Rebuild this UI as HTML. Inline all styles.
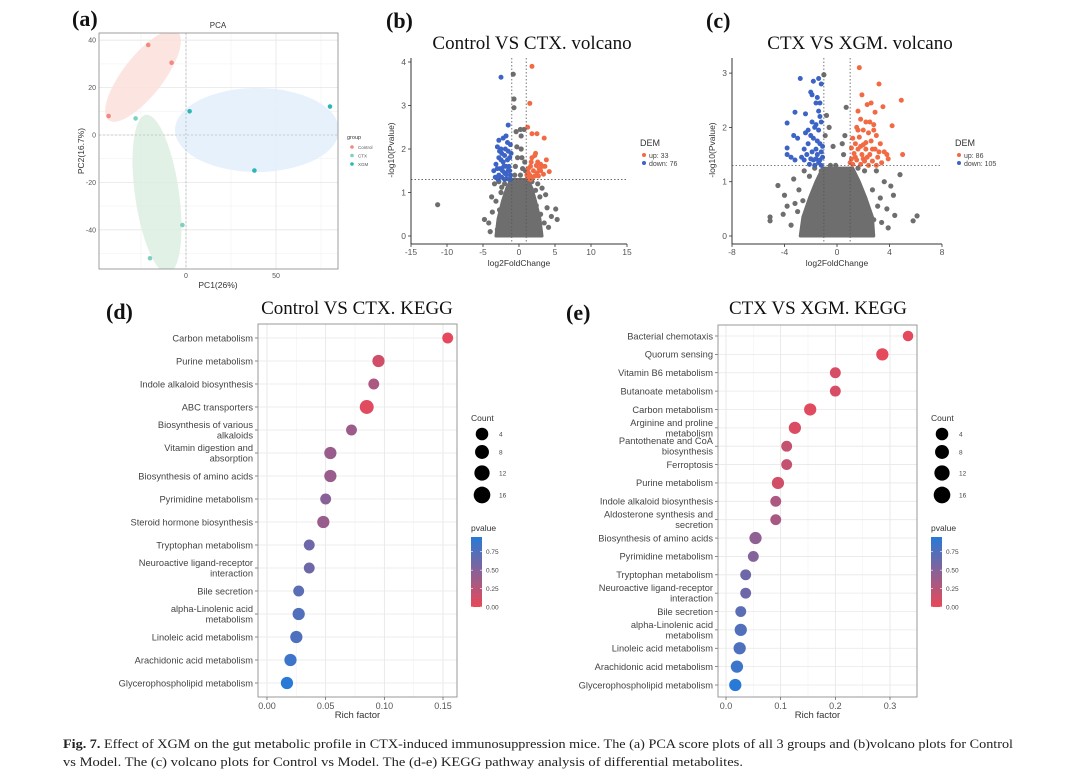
<!DOCTYPE html>
<html><head><meta charset="utf-8"><style>
html,body{margin:0;padding:0;background:#fff;}
svg{display:block;font-family:"Liberation Sans",sans-serif;}
.serif{font-family:"Liberation Serif",serif;}
</style></head><body>
<svg id="fig" width="1080" height="783" viewBox="0 0 1080 783" xmlns="http://www.w3.org/2000/svg">
<rect width="1080" height="783" fill="#fff"/>
<g class="serif" font-weight="bold" font-size="22" fill="#111">
<text x="72" y="26">(a)</text>
<text x="386" y="28">(b)</text>
<text x="706" y="28">(c)</text>
<text x="106" y="319">(d)</text>
<text x="566" y="320">(e)</text>
</g>
<g class="serif" font-size="19" fill="#111" text-anchor="middle">
<text x="532" y="49">Control VS CTX. volcano</text>
<text x="860" y="49">CTX VS XGM. volcano</text>
<text x="357" y="314">Control VS CTX. KEGG</text>
<text x="818" y="314">CTX VS XGM. KEGG</text>
</g>
<g id="pa"></g><g id="pb"></g><g id="pc"></g><g id="pd"></g><g id="pe"></g>
<g class="serif" font-size="12.5" fill="#222">
<text x="63" y="748" textLength="950" lengthAdjust="spacingAndGlyphs"><tspan font-weight="bold">Fig. 7.</tspan>  Effect of XGM on the gut metabolic profile in CTX-induced immunosuppression mice. The (a) PCA score plots of all 3 groups and (b)volcano plots for Control</text>
<text x="63" y="766" textLength="680" lengthAdjust="spacingAndGlyphs">vs Model. The (c) volcano plots for Control vs Model. The (d-e) KEGG pathway analysis of differential metabolites.</text>
</g>
</svg>
<script>
// ===== PCA data =====
const pcaGroups = ["Control","CTX","XGM"];
const pcaX = [-21,-8,-43, -28,-20,-2, 2,80,38];
const pcaY = [38,30.5,8, 7,-52,-38, 10,12,-15];
const pcaG = [0,0,0, 1,1,1, 2,2,2];
const pcaTicksX = [0,50];
const pcaTicksY = [40,20,0,-20,-40];

// ===== Volcano b data =====
const vbUp = "1.8,3.9;1.5,3.05;1.2,2.5;1.8,2.35;2.5,2.35;3.5,2.25;2.2,1.85;2.3,1.9;1.8,1.8;3.8,1.75;3,1.65;3.3,1.6;3.6,1.6;4.2,1.48;2.8,1.55;1.6,1.6;1.3,1.45;1.5,1.4;2,1.5;2.5,1.45;1.2,1.35;1.4,1.32;2.2,1.38;3,1.5;1.7,1.7;2.6,1.7;1.1,1.4;1.9,1.35;2.7,1.38;1.3,1.55;3.4,1.42;2.4,1.62;1.6,1.3";
const vbDown = "-2.5,3.65;-1.5,2.55;-1.8,2.3;-2.8,2.2;-2.2,2.25;-1.2,2.1;-2.5,2;-3,2.05;-1.5,1.95;-2,1.85;-2.8,1.8;-1.3,1.8;-2.2,1.7;-3.2,1.65;-1.8,1.6;-2.6,1.55;-1.5,1.5;-3.5,1.5;-2,1.45;-2.8,1.4;-1.2,1.4;-2.4,1.35;-1.7,1.32;-2.9,1.3;-1.4,1.6;-2.3,1.5;-1.1,1.9;-1.9,2.0;-2.7,1.95;-1.6,1.75;-2.1,1.6;-3.0,1.55;-1.3,1.5;-2.5,1.75;-1.8,1.42;-1.2,1.3;-2.0,1.3;-3.3,1.35;-1.6,2.15;-2.4,1.9";
const vbGray = "-11.3,0.72;-0.8,3.72;-0.7,3.15;-0.7,2.95;0.2,2.45;0.7,2.45;-0.4,2.4;0.3,2.3;-0.3,2.05;0.3,2.0;-0.2,1.8;0.4,1.8;0.8,1.7;-0.5,1.6;0.5,1.55;0.9,1.5;-0.6,1.4;0.2,1.4;-3.4,1.2;-2.8,1.25;-2,1.2;-1.2,1.25;-0.5,1.2;0.3,1.25;1,1.2;1.8,1.25;2.6,1.2;2.3,1.05;3.7,0.95;5.1,0.62;4.5,0.45;5.3,0.38;-4.8,0.38;-4.2,0.3;-3.7,0.55;-3.2,0.8;-2.5,1.0;-2.7,0.6;-2,0.85;-1.5,1.1;-1,1.0;-0.3,0.95;0.4,1.05;1.2,0.95;1.7,0.85;2.4,0.7;3,0.5;3.5,0.3;2.8,0.2;-2.2,0.3;-3,0.15;-1.8,0.55;-1.2,0.7;4.1,0.2;-4.0,0.1;3.9,0.65;-3.8,0.9;2.9,0.9;-2.4,1.12;3.2,1.1";
const vbCoreY = [0,0.4,0.8,1.1,1.3];
const vbCoreL = [-3.2,-2.9,-2.3,-1.7,-1.1];
const vbCoreR = [3.2,2.9,2.3,1.8,1.2];
const vbTicksX = [-15,-10,-5,0,5,10,15];
const vbTicksY = [0,1,2,3,4];
const vbCounts = [33,76];

// ===== Volcano c data =====
const vcUp = "1.7,3.1;3.2,2.8;1.9,2.6;4.9,2.5;2.6,2.45;2.3,2.42;3.5,2.38;1.6,2.3;2.9,2.28;4.2,2.03;5.0,1.5;1.8,2.15;2.2,2.1;2.5,2.1;2.8,2.05;1.5,2.0;2.0,1.95;2.4,1.9;3.0,1.85;1.2,1.8;1.7,1.82;2.6,1.75;3.3,1.7;1.4,1.7;2.0,1.68;1.1,1.62;1.6,1.6;2.2,1.6;2.9,1.6;3.6,1.55;1.3,1.52;1.9,1.5;2.5,1.5;3.1,1.45;3.9,1.42;1.1,1.42;1.5,1.4;2.1,1.38;2.7,1.38;3.4,1.35;1.2,1.32;1.8,1.32;2.4,1.3;3.0,1.3;2.2,1.72;1.8,1.65;2.7,1.6;1.4,1.45;2.3,1.45;3.2,1.55;1.0,1.35;2.0,1.42;2.8,1.95;1.6,1.95;3.8,1.5";
const vcDown = "-2.8,2.9;-1.4,2.9;-1.8,2.85;-1.2,2.8;-2,2.65;-1.9,2.6;-1.5,2.55;-1.6,2.45;-1.3,2.45;-3.2,2.28;-2.4,2.25;-1.4,2.3;-3.8,2.08;-1.9,2.1;-1.6,2.05;-1.2,2.1;-2.2,1.95;-1.4,1.95;-3.3,1.85;-2.4,1.9;-1.8,1.8;-3,1.8;-2.2,1.7;-1.3,1.7;-3.8,1.62;-2.5,1.6;-1.6,1.6;-3.8,1.5;-2.3,1.5;-1.2,1.55;-3.5,1.45;-3.2,1.4;-2.5,1.4;-1.8,1.4;-1.4,1.35;-2.1,1.32;-1.7,1.3;-1.2,1.3;-1.5,1.5;-1.9,1.55;-1.1,1.45;-2.0,1.42;-1.3,1.4;-1.6,1.42;-2.7,1.45;-1.1,1.65;-1.5,1.75;-1.7,2.0;-2.0,1.85;-1.3,2.2";
const vcGray = "-1.0,2.97;0.7,2.37;-0.8,2.22;-0.6,2.0;-0.3,1.65;0.4,1.7;0.6,1.85;-0.9,1.85;0.5,1.5;-0.5,1.3;-0.1,1.3;-4.5,0.93;-3.3,1.05;-4.0,0.75;-3.8,0.55;-4.1,0.4;-5.1,0.35;-5.1,0.28;-2.9,0.85;-2.5,1.2;-3.0,0.45;-2.4,0.3;3.0,1.2;3.6,1.0;4.1,0.92;4.3,0.75;3.8,0.5;4.4,0.38;5.8,0.28;6.1,0.37;4.8,1.13;3.3,0.7;2.8,0.3;3.4,0.25;-3.5,0.2;3.9,0.15;-2.6,0.65;2.7,0.85;-2.1,1.1;2.1,1.2;-1.7,1.25;1.6,1.25;-1.2,1.2;1.2,1.15;-0.7,1.0;0.8,1.05;-3.2,0.6;3.1,0.55";
const vcCoreY = [0,0.35,0.7,1.0,1.25];
const vcCoreL = [-2.8,-2.6,-2.1,-1.6,-1.1];
const vcCoreR = [2.8,2.7,2.2,1.7,1.2];
const vcTicksX = [-8,-4,0,4,8];
const vcTicksY = [0,1,2,3];
const vcCounts = [86,105];

// ===== KEGG d data =====
const kdPaths = ["Carbon metabolism","Purine metabolism","Indole alkaloid biosynthesis","ABC transporters","Biosynthesis of various|alkaloids","Vitamin digestion and|absorption","Biosynthesis of amino acids","Pyrimidine metabolism","Steroid hormone biosynthesis","Tryptophan metabolism","Neuroactive ligand-receptor|interaction","Bile secretion","alpha-Linolenic acid|metabolism","Linoleic acid metabolism","Arachidonic acid metabolism","Glycerophospholipid metabolism"];
const kdRich = [0.154,0.095,0.091,0.085,0.072,0.054,0.054,0.05,0.048,0.036,0.036,0.027,0.027,0.025,0.02,0.017];
const kdCount = [5,9,5,14,5,9,9,5,9,5,5,5,9,9,9,9];
const kdP = [0.02,0.12,0.3,0.05,0.38,0.4,0.4,0.48,0.4,0.6,0.6,0.7,0.75,0.77,0.85,0.95];
const kdTicks = [0,0.05,0.10,0.15];
const kdTickLabels = ["0.00","0.05","0.10","0.15"];

// ===== KEGG e data =====
const kePaths = ["Bacterial chemotaxis","Quorum sensing","Vitamin B6 metabolism","Butanoate metabolism","Carbon metabolism","Arginine and proline|metabolism","Pantothenate and CoA|biosynthesis","Ferroptosis","Purine metabolism","Indole alkaloid biosynthesis","Aldosterone synthesis and|secretion","Biosynthesis of amino acids","Pyrimidine metabolism","Tryptophan metabolism","Neuroactive ligand-receptor|interaction","Bile secretion","alpha-Linolenic acid|metabolism","Linoleic acid metabolism","Arachidonic acid metabolism","Glycerophospholipid metabolism"];
const keRich = [0.333,0.286,0.2,0.2,0.154,0.126,0.111,0.111,0.095,0.091,0.091,0.054,0.05,0.036,0.036,0.027,0.027,0.025,0.02,0.017];
const keCount = [4,9,5,5,9,9,5,5,9,5,5,9,5,5,5,5,9,9,9,9];
const keP = [0.03,0.03,0.1,0.1,0.05,0.08,0.18,0.18,0.12,0.3,0.33,0.45,0.5,0.6,0.6,0.7,0.75,0.77,0.85,0.95];
const keTicks = [0,0.1,0.2,0.3];
const keTickLabels = ["0.0","0.1","0.2","0.3"];

const countLegend = [4,8,12,16];
const pLegend = [0.75,0.5,0.25,0];
const pLegendLabels = ["0.75","0.50","0.25","0.00"];

const NS = "http://www.w3.org/2000/svg";
function mk(parent, tag, attrs, txt){
  const e = document.createElementNS(NS, tag);
  for (const k in attrs) e.setAttribute(k, attrs[k]);
  if (txt !== undefined) e.textContent = txt;
  parent.appendChild(e);
  return e;
}
function parsePts(s){ return s.split(";").map(p=>p.split(",").map(Number)); }
function pColor(p){
  const t = Math.max(0, Math.min(1, p/0.95));
  const a=[234,72,88], b=[40,122,214];
  return "rgb("+a.map((v,i)=>Math.round(v+(b[i]-v)*t)).join(",")+")";
}

// ===== Panel a: PCA =====
(function(){
  const g = document.getElementById("pa");
  const L=99,R=338,T=33,B=269;
  const xA = v => 186 + 1.8*v;
  const yA = v => 135 - 2.37*v;
  mk(g,"text",{x:218,y:28,"font-size":8,"text-anchor":"middle",fill:"#333"},"PCA");
  const defs = mk(g,"defs",{});
  const cp = mk(defs,"clipPath",{id:"clipA"});
  mk(cp,"rect",{x:L,y:T,width:R-L,height:B-T});
  [-25,25,75].forEach(v=>mk(g,"line",{x1:xA(v),x2:xA(v),y1:T,y2:B,stroke:"#f2f2f2","stroke-width":0.6}));
  [30,10,-10,-30,-50].forEach(v=>mk(g,"line",{x1:L,x2:R,y1:yA(v),y2:yA(v),stroke:"#f2f2f2","stroke-width":0.6}));
  pcaTicksX.forEach(v=>mk(g,"line",{x1:xA(v),x2:xA(v),y1:T,y2:B,stroke:"#e6e6e6","stroke-width":0.8}));
  pcaTicksY.forEach(v=>mk(g,"line",{x1:L,x2:R,y1:yA(v),y2:yA(v),stroke:"#e6e6e6","stroke-width":0.8}));
  const eg = mk(g,"g",{"clip-path":"url(#clipA)"});
  let e;
  e = mk(eg,"ellipse",{cx:143,cy:76,rx:56,ry:20,transform:"rotate(-52 143 76)",fill:"#fbe0dc","fill-opacity":0.85});
   
  e = mk(eg,"ellipse",{cx:157,cy:194,rx:80,ry:22,transform:"rotate(82 157 194)",fill:"#dcefe2","fill-opacity":0.85});
   
  e = mk(eg,"ellipse",{cx:257,cy:130,rx:82,ry:42,fill:"#e3f0fc","fill-opacity":0.9});
   
  mk(g,"line",{x1:xA(0),x2:xA(0),y1:T,y2:B,stroke:"#aaa","stroke-width":0.6,"stroke-dasharray":"2,2"});
  mk(g,"line",{x1:L,x2:R,y1:yA(0),y2:yA(0),stroke:"#aaa","stroke-width":0.6,"stroke-dasharray":"2,2"});
  mk(g,"rect",{x:L,y:T,width:R-L,height:B-T,fill:"none",stroke:"#888","stroke-width":0.8});
  const cols = ["#f08a80","#7fd0c0","#2fb5b8"];
  pcaX.forEach((v,i)=>{
    const c = mk(g,"circle",{cx:xA(v),cy:yA(pcaY[i]),r:2.3,fill:cols[pcaG[i]]});
    
    
  });
  pcaTicksY.forEach(v=>mk(g,"text",{x:96,y:yA(v)+2.5,"font-size":7,"text-anchor":"end",fill:"#555"},String(v)));
  pcaTicksX.forEach(v=>mk(g,"text",{x:xA(v),y:278,"font-size":7,"text-anchor":"middle",fill:"#555"},String(v)));
  mk(g,"text",{x:218,y:288,"font-size":8.5,"text-anchor":"middle",fill:"#333"},"PC1(26%)");
  mk(g,"text",{x:84,y:151,"font-size":8.5,"text-anchor":"middle",fill:"#333",transform:"rotate(-90 84 151)"},"PC2(16.7%)");
  mk(g,"text",{x:347,y:139,"font-size":5.5,fill:"#333"},"group");
  pcaGroups.forEach((n,i)=>{
    const y = 147+i*8.5;
    const d = mk(g,"circle",{cx:352,cy:y,r:1.8,fill:cols[i]});
    
    
    mk(g,"text",{x:358,y:y+1.8,"font-size":4.5,fill:"#555"},n);
  });
})();

// ===== Volcano =====
function volcano(id, cfg){
  const g = document.getElementById(id);
  const xS = v => cfg.x0 + (v-cfg.xmin)*cfg.kx;
  const yS = v => cfg.y0 - v*cfg.ky;
  const L = cfg.x0, B = 244;
  let pts = cfg.coreY.map((y,i)=>xS(cfg.coreL[i])+","+yS(y));
  pts = pts.concat(cfg.coreY.slice().reverse().map((y,i)=>xS(cfg.coreR[cfg.coreY.length-1-i])+","+yS(y)));
  const core = mk(g,"polygon",{points:pts.join(" "),fill:"#6e6e6e","stroke":"#6e6e6e","stroke-width":3,"stroke-linejoin":"round"});
  
  
  parsePts(cfg.gray).forEach(p=>{
    const c = mk(g,"circle",{cx:xS(p[0]),cy:yS(p[1]),r:2.6,fill:"#6e6e6e"});
    
    
  });
  parsePts(cfg.up).forEach(p=>{
    const c = mk(g,"circle",{cx:xS(p[0]),cy:yS(p[1]),r:2.5,fill:"#f26a43"});
    
    
  });
  parsePts(cfg.down).forEach(p=>{
    const c = mk(g,"circle",{cx:xS(p[0]),cy:yS(p[1]),r:2.5,fill:"#3c63c6"});
    
    
  });
  [-1,1].forEach(v=>mk(g,"line",{x1:xS(v),x2:xS(v),y1:58,y2:B,stroke:"#555","stroke-width":0.8,"stroke-dasharray":"1.5,2"}));
  mk(g,"line",{x1:L,x2:xS(cfg.xmax),y1:yS(1.3),y2:yS(1.3),stroke:"#555","stroke-width":0.8,"stroke-dasharray":"1.5,2"});
  mk(g,"line",{x1:L,x2:L,y1:58,y2:B,stroke:"#333","stroke-width":1});
  mk(g,"line",{x1:L,x2:xS(cfg.xmax),y1:B,y2:B,stroke:"#333","stroke-width":1});
  cfg.ticksX.forEach(v=>{
    mk(g,"line",{x1:xS(v),x2:xS(v),y1:B,y2:B+3,stroke:"#333","stroke-width":0.8});
    mk(g,"text",{x:xS(v),y:B+11,"font-size":8.5,"text-anchor":"middle",fill:"#555"},String(v));
  });
  cfg.ticksY.forEach(v=>{
    mk(g,"line",{x1:L-3,x2:L,y1:yS(v),y2:yS(v),stroke:"#333","stroke-width":0.8});
    mk(g,"text",{x:L-5,y:yS(v)+3,"font-size":8.5,"text-anchor":"end",fill:"#555"},String(v));
  });
  const mid = (L+xS(cfg.xmax))/2;
  mk(g,"text",{x:mid,y:266,"font-size":8.5,"text-anchor":"middle",fill:"#333"},"log2FoldChange");
  mk(g,"text",{x:L-17,y:150,"font-size":8.5,"text-anchor":"middle",fill:"#333",transform:"rotate(-90 "+(L-17)+" 150)"},"-log10(Pvalue)");
  const lx = cfg.legX;
  mk(g,"text",{x:lx,y:146,"font-size":9,fill:"#333"},"DEM");
  mk(g,"circle",{cx:lx+4,cy:155,r:2,fill:"#f26a43"});
  mk(g,"text",{x:lx+9,y:158,"font-size":7,fill:"#444"},"up: "+cfg.counts[0]);
  mk(g,"circle",{cx:lx+4,cy:163,r:2,fill:"#3c63c6"});
  mk(g,"text",{x:lx+9,y:166,"font-size":7,fill:"#444"},"down: "+cfg.counts[1]);
}
volcano("pb",{x0:411,xmin:-15,xmax:15,kx:216/30,y0:236,ky:43.5,up:vbUp,down:vbDown,gray:vbGray,coreY:vbCoreY,coreL:vbCoreL,coreR:vbCoreR,ticksX:vbTicksX,ticksY:vbTicksY,counts:vbCounts,legX:640});
volcano("pc",{x0:732,xmin:-8,xmax:8,kx:210/16,y0:236,ky:54.3,up:vcUp,down:vcDown,gray:vcGray,coreY:vcCoreY,coreL:vcCoreL,coreR:vcCoreR,ticksX:vcTicksX,ticksY:vcTicksY,counts:vcCounts,legX:955});

// ===== KEGG =====
function kegg(id, cfg){
  const g = document.getElementById(id);
  const {L,R,T,B} = cfg;
  const xS = v => cfg.x0 + v*cfg.kx;
  const n = cfg.paths.length;
  const yS = i => cfg.yFirst + i*(cfg.yLast-cfg.yFirst)/(n-1);
  const rS = c => 4.6 + 0.17*c;
  mk(g,"rect",{x:L,y:T,width:R-L,height:B-T,fill:"#fff"});
  for (let i=0;i<cfg.ticks.length;i++){
    mk(g,"line",{x1:xS(cfg.ticks[i]),x2:xS(cfg.ticks[i]),y1:T,y2:B,stroke:"#e4e4e4","stroke-width":0.8});
    const mv = cfg.ticks[i] + (cfg.ticks[1]-cfg.ticks[0])/2;
    if (xS(mv) < R) mk(g,"line",{x1:xS(mv),x2:xS(mv),y1:T,y2:B,stroke:"#f2f2f2","stroke-width":0.6});
  }
  cfg.paths.forEach((p,i)=>{
    mk(g,"line",{x1:L,x2:R,y1:yS(i),y2:yS(i),stroke:"#e8e8e8","stroke-width":0.8});
    mk(g,"line",{x1:L-3,x2:L,y1:yS(i),y2:yS(i),stroke:"#555","stroke-width":0.7});
    const parts = p.split("|");
    if (parts.length===1){
      mk(g,"text",{x:L-5,y:yS(i)+3.3,"font-size":9.3,"text-anchor":"end",fill:"#444"},parts[0]);
    } else {
      mk(g,"text",{x:L-5,y:yS(i)-2,"font-size":9.3,"text-anchor":"end",fill:"#444"},parts[0]);
      mk(g,"text",{x:L-5,y:yS(i)+8.5,"font-size":9.3,"text-anchor":"end",fill:"#444"},parts[1]);
    }
  });
  mk(g,"rect",{x:L,y:T,width:R-L,height:B-T,fill:"none",stroke:"#999","stroke-width":1});
  cfg.rich.forEach((v,i)=>{
    const c = mk(g,"circle",{cx:xS(v),cy:yS(i),r:rS(cfg.count[i]),fill:pColor(cfg.p[i])});
    
    
  });
  cfg.ticks.forEach((v,i)=>{
    mk(g,"line",{x1:xS(v),x2:xS(v),y1:B,y2:B+3,stroke:"#555","stroke-width":0.7});
    mk(g,"text",{x:xS(v),y:B+12,"font-size":9,"text-anchor":"middle",fill:"#555"},cfg.tickLabels[i]);
  });
  mk(g,"text",{x:(L+R)/2,y:B+21,"font-size":9.5,"text-anchor":"middle",fill:"#333"},"Rich factor");
  const lx = cfg.legX;
  mk(g,"text",{x:lx,y:421,"font-size":8.5,fill:"#333"},"Count");
  const ly = [434,452,473,495];
  countLegend.forEach((c,i)=>{
    const d = mk(g,"circle",{cx:lx+11,cy:ly[i],r:rS(c)+1,fill:"#000"});
    
    
    mk(g,"text",{x:lx+28,y:ly[i]+2.5,"font-size":6.5,fill:"#444"},String(c));
  });
  mk(g,"text",{x:lx,y:531,"font-size":8.5,fill:"#333"},"pvalue");
  const gid = "grad"+id;
  const defs = mk(g,"defs",{});
  const lg = mk(defs,"linearGradient",{id:gid,x1:0,y1:1,x2:0,y2:0});
  mk(lg,"stop",{offset:"0%","stop-color":pColor(0)});
  mk(lg,"stop",{offset:"50%","stop-color":pColor(0.47)});
  mk(lg,"stop",{offset:"100%","stop-color":pColor(0.95)});
  const cb = mk(g,"rect",{x:lx,y:537,width:11,height:70,fill:"url(#"+gid+")"});
  
  
  const pY = v => 607 - v/0.95*70;
  pLegend.forEach((v,i)=>{
    mk(g,"line",{x1:lx,x2:lx+2,y1:pY(v),y2:pY(v),stroke:"#fff","stroke-width":0.6});
    mk(g,"line",{x1:lx+9,x2:lx+11,y1:pY(v),y2:pY(v),stroke:"#fff","stroke-width":0.6});
    mk(g,"text",{x:lx+15,y:pY(v)+2.3,"font-size":6.5,fill:"#444"},pLegendLabels[i]);
  });
}
kegg("pd",{L:258,R:457,T:324,B:697,x0:267,kx:176/0.15,yFirst:338,yLast:683,paths:kdPaths,rich:kdRich,count:kdCount,p:kdP,ticks:kdTicks,tickLabels:kdTickLabels,legX:471});
kegg("pe",{L:718,R:917,T:325,B:697,x0:726,kx:164/0.3,yFirst:336,yLast:685,paths:kePaths,rich:keRich,count:keCount,p:keP,ticks:keTicks,tickLabels:keTickLabels,legX:931});
</script>
</body></html>
